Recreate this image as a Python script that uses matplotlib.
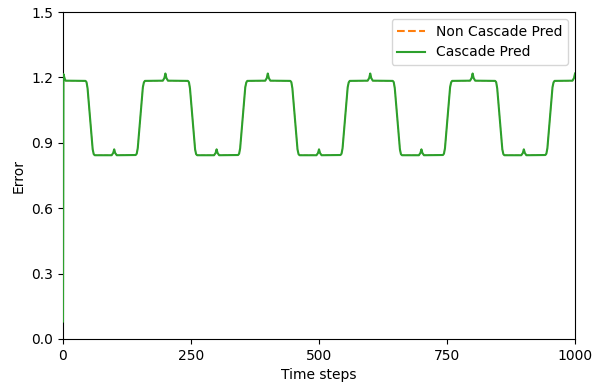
import matplotlib
matplotlib.use("Agg")
import matplotlib.pyplot as plt
from matplotlib.lines import Line2D
from matplotlib.ticker import MultipleLocator, FormatStrFormatter

# Error per time step (knots along the trace)
steps = [
    0, 1, 3, 5, 44, 46, 48, 58, 60, 62, 95, 98, 100, 102, 105, 142, 144, 146, 156, 158, 160, 195, 198,
    200, 202, 205, 244, 246, 248, 258, 260, 262, 295, 298, 300, 302, 305, 342, 344, 346, 356, 358, 360, 395, 398,
    400, 402, 405, 444, 446, 448, 458, 460, 462, 495, 498, 500, 502, 505, 542, 544, 546, 556, 558, 560, 595, 598,
    600, 602, 605, 644, 646, 648, 658, 660, 662, 695, 698, 700, 702, 705, 742, 744, 746, 756, 758, 760, 795, 798,
    800, 802, 805, 844, 846, 848, 858, 860, 862, 895, 898, 900, 902, 905, 942, 944, 946, 956, 958, 960, 995, 998,
    1000,
]
error = [
    0.08, 1.215, 1.197, 1.185, 1.184, 1.178, 1.15, 0.87, 0.848, 0.843, 0.843, 0.853, 0.870, 0.853, 0.843, 0.844, 0.850, 0.875, 1.155, 1.177, 1.184, 1.185, 1.197,
    1.218, 1.197, 1.185, 1.184, 1.178, 1.15, 0.87, 0.848, 0.843, 0.843, 0.853, 0.870, 0.853, 0.843, 0.844, 0.850, 0.875, 1.155, 1.177, 1.184, 1.185, 1.197,
    1.218, 1.197, 1.185, 1.184, 1.178, 1.15, 0.87, 0.848, 0.843, 0.843, 0.853, 0.870, 0.853, 0.843, 0.844, 0.850, 0.875, 1.155, 1.177, 1.184, 1.185, 1.197,
    1.218, 1.197, 1.185, 1.184, 1.178, 1.15, 0.87, 0.848, 0.843, 0.843, 0.853, 0.870, 0.853, 0.843, 0.844, 0.850, 0.875, 1.155, 1.177, 1.184, 1.185, 1.197,
    1.218, 1.197, 1.185, 1.184, 1.178, 1.15, 0.87, 0.848, 0.843, 0.843, 0.853, 0.870, 0.853, 0.843, 0.844, 0.850, 0.875, 1.155, 1.177, 1.184, 1.185, 1.197,
    1.218,
]

orange = "tab:orange"
green = "tab:green"

fig = plt.figure(figsize=(6.01, 3.85), dpi=100)
ax = fig.add_axes([0.1048, 0.1195, 0.852, 0.8493])

# The two predictions coincide; the cascade trace sits on top (above the spines)
ax.plot(steps, error, linestyle="--", color=orange, linewidth=0.8, zorder=2)
ax.plot(steps, error, linestyle="-", color=green, linewidth=1.5, zorder=3)

ax.set_xlim(0, 1000)
ax.set_ylim(0, 1.5)
ax.xaxis.set_major_locator(MultipleLocator(250))
ax.yaxis.set_major_locator(MultipleLocator(0.3))
ax.yaxis.set_major_formatter(FormatStrFormatter("%.1f"))
ax.set_xlabel("Time steps")
ax.set_ylabel("Error")

handles = [
    Line2D([], [], linestyle="--", color=orange, linewidth=1.5),
    Line2D([], [], linestyle="-", color=green, linewidth=1.5),
]
ax.legend(handles, ["Non Cascade Pred", "Cascade Pred"], loc="upper right")

fig.savefig("out.png", dpi=100)
